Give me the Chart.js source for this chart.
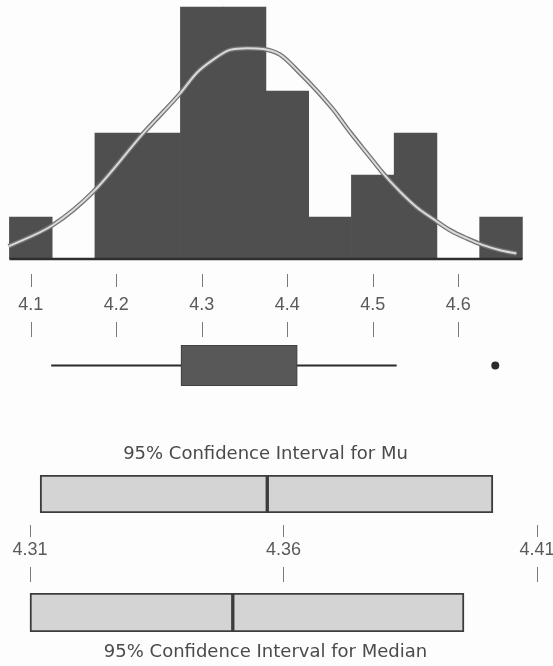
<!DOCTYPE html>
<html>
<head>
<meta charset="utf-8">
<script src="https://cdn.jsdelivr.net/npm/chart.js@4.4.1/dist/chart.umd.min.js"></script>
<style>
  html, body { margin: 0; padding: 0; background: #fdfdfd; }
  #wrap { position: relative; width: 553px; height: 666px; overflow: hidden; }
  canvas { position: absolute; }
</style>
</head>
<body>
<div id="wrap">
  <canvas id="hist" width="553" height="340" style="left:0;top:0"></canvas>
  <canvas id="box" width="553" height="60" style="left:0;top:340px"></canvas>
  <canvas id="ciMu" width="575" height="150" style="left:-22px;top:435px"></canvas>
  <canvas id="ciMedian" width="575" height="81" style="left:-22px;top:585px"></canvas>
</div>
<script>
// histogram
const binCenters = [4.10, 4.15, 4.20, 4.25, 4.30, 4.35, 4.40, 4.45, 4.50, 4.55, 4.60, 4.65];
const binCounts = [1, 0, 3, 3, 6, 6, 4, 1, 2, 3, 0, 1];
const histRange = [4.075, 4.675];

// fitted curve
const curveX = [4.074, 4.126, 4.173, 4.231, 4.275, 4.294, 4.313, 4.333, 4.353, 4.372,
  4.392, 4.415, 4.434, 4.454, 4.473, 4.493, 4.512, 4.532, 4.551, 4.571,
  4.590, 4.610, 4.629, 4.649, 4.668];
const curveY = [0.30, 0.81, 1.60, 2.98, 3.95, 4.43, 4.74, 4.98, 5.02, 5.00,
  4.86, 4.42, 4.02, 3.55, 3.03, 2.52, 2.04, 1.60, 1.24, 0.95,
  0.69, 0.49, 0.33, 0.21, 0.13];

const histTicks = [4.1, 4.2, 4.3, 4.4, 4.5, 4.6];
const histTickLabels = ["4.1", "4.2", "4.3", "4.4", "4.5", "4.6"];

// box plot
const boxWhiskers = [4.120, 4.530];
const boxQuartiles = [4.274, 4.412];
const boxOutliers = [4.647];

// confidence intervals
const muInterval = [4.3120, 4.4013];
const muMean = 4.3568;
const medianInterval = [4.3100, 4.3956];
const medianValue = 4.3500;
const ciTicks = [4.31, 4.36, 4.41];
const ciTickLabels = ["4.31", "4.36", "4.41"];

const tickFont = { family: "Liberation Sans", size: 18 };
const titleFont = { family: "DejaVu Sans", size: 18, weight: "normal" };

// little tick marks above and below each axis label
function tickMarks(upper, lower) {
  return {
    id: "tickMarks",
    afterDraw(chart) {
      const scale = chart.scales.x;
      const ctx = chart.ctx;
      const base = chart.chartArea.bottom;
      ctx.save();
      ctx.strokeStyle = "#7a7a7a";
      ctx.lineWidth = 1;
      scale.ticks.forEach((t) => {
        const x = Math.round(scale.getPixelForValue(t.value)) + 0.5;
        [upper, lower].forEach(([a, b]) => {
          ctx.beginPath();
          ctx.moveTo(x, base + a);
          ctx.lineTo(x, base + b);
          ctx.stroke();
        });
      });
      ctx.restore();
    },
  };
}

function createHistogram(ctx) {
  const bins = binCenters.map((x, i) => ({ x: x, y: binCounts[i] }));
  const curve = curveX.map((x, i) => ({ x: x, y: curveY[i] }));
  const baseline = histRange.map((x) => ({ x: x, y: 0 }));

  new Chart(ctx, {
    type: "bar",
    data: {
      datasets: [
        { type: "line", data: curve, borderColor: "#dadada", borderWidth: 2, pointRadius: 0, cubicInterpolationMode: "monotone", clip: false, order: 0 },
        { type: "line", data: curve, borderColor: "#737373", borderWidth: 4.5, pointRadius: 0, cubicInterpolationMode: "monotone", clip: false, order: 1 },
        { type: "line", data: baseline, borderColor: "#2e2e2e", borderWidth: 2.5, pointRadius: 0, clip: false, order: 2 },
        { type: "bar", data: bins, backgroundColor: "#4f4f4f", barPercentage: 1, categoryPercentage: 1, order: 3 },
      ],
    },
    options: {
      responsive: false,
      animation: false,
      events: [],
      layout: { padding: 0 },
      plugins: { legend: { display: false }, tooltip: { enabled: false } },
      scales: {
        x: {
          type: "linear",
          min: 4.063977,
          max: 4.710760,
          offset: false,
          grid: { display: false, drawTicks: false, offset: false },
          border: { display: false },
          afterBuildTicks: (axis) => {
            axis.ticks = histTicks.map((v) => ({ value: v }));
          },
          afterFit: (axis) => {
            axis.height = 81;
            axis.paddingLeft = 0;
            axis.paddingRight = 0;
          },
          ticks: {
            padding: 35,
            color: "#5a5a5a",
            font: tickFont,
            maxRotation: 0,
            autoSkip: false,
            callback: (value, index) => histTickLabels[index],
          },
        },
        y: { display: false, min: 0, max: 6.1667 },
      },
    },
    plugins: [tickMarks([15, 28], [63, 78])],
  });
}

function createBoxPlot(ctx) {
  new Chart(ctx, {
    type: "bar",
    data: {
      labels: ["box"],
      datasets: [
        {
          type: "bar",
          indexAxis: "y",
          data: [{ x: boxQuartiles, y: "box" }],
          backgroundColor: "#585858",
          borderColor: "#3a3a3a",
          borderWidth: 1,
          borderSkipped: false,
          barPercentage: 1,
          categoryPercentage: 1,
          order: 0,
        },
        {
          type: "line",
          data: boxWhiskers.map((v) => ({ x: v, y: "box" })),
          borderColor: "#2a2a2a",
          borderWidth: 2,
          pointRadius: 0,
          order: 1,
        },
        {
          type: "line",
          data: boxOutliers.map((v) => ({ x: v, y: "box" })),
          showLine: false,
          pointRadius: 4,
          pointBorderWidth: 0,
          pointBackgroundColor: "#2a2a2a",
          order: 2,
        },
      ],
    },
    options: {
      indexAxis: "y",
      responsive: false,
      animation: false,
      events: [],
      layout: { padding: { top: 5, bottom: 14 } },
      plugins: { legend: { display: false }, tooltip: { enabled: false } },
      scales: {
        x: { type: "linear", display: false, min: 4.063977, max: 4.710760 },
        y: { type: "category", display: false, offset: true },
      },
    },
  });
}

function createInterval(ctx, interval, centre, title, withAxis) {
  const segments = [
    { x: [interval[0], centre], y: "ci" },
    { x: [centre, interval[1]], y: "ci" },
  ];

  let xScale = { type: "linear", display: false, min: 4.299744, max: 4.413156 };
  if (withAxis) {
    xScale = {
      type: "linear",
      min: 4.299744,
      max: 4.413156,
      grid: { display: false, drawTicks: false },
      border: { display: false },
      afterBuildTicks: (axis) => {
        axis.ticks = ciTicks.map((v) => ({ value: v }));
      },
      afterFit: (axis) => {
        axis.height = 72;
        axis.paddingLeft = 0;
        axis.paddingRight = 0;
      },
      ticks: {
        padding: 26,
        color: "#5a5a5a",
        font: tickFont,
        maxRotation: 0,
        autoSkip: false,
        callback: (value, index) => ciTickLabels[index],
      },
    };
  }

  new Chart(ctx, {
    type: "bar",
    data: {
      labels: ["ci"],
      datasets: [
        {
          data: segments,
          backgroundColor: "#d4d4d4",
          borderColor: "#3c3c3c",
          borderWidth: 2,
          borderSkipped: false,
          barPercentage: 1,
          categoryPercentage: 1,
        },
      ],
    },
    options: {
      indexAxis: "y",
      responsive: false,
      animation: false,
      events: [],
      layout: { padding: withAxis ? 0 : { top: 8 } },
      plugins: {
        legend: { display: false },
        tooltip: { enabled: false },
        title: {
          display: true,
          text: title,
          position: withAxis ? "top" : "bottom",
          color: "#4a4a4a",
          font: titleFont,
          padding: withAxis ? { top: 8.7, bottom: 9.7 } : { top: 9.2, bottom: 3.2 },
        },
      },
      scales: {
        x: xScale,
        y: { type: "category", display: false, offset: true },
      },
    },
    plugins: withAxis ? [tickMarks([12, 24], [54, 69])] : [],
  });
}

createHistogram(document.getElementById("hist").getContext("2d"));
createBoxPlot(document.getElementById("box").getContext("2d"));
createInterval(document.getElementById("ciMu").getContext("2d"), muInterval, muMean,
  "95% Confidence Interval for Mu", true);
createInterval(document.getElementById("ciMedian").getContext("2d"), medianInterval, medianValue,
  "95% Confidence Interval for Median", false);
</script>
</body>
</html>
